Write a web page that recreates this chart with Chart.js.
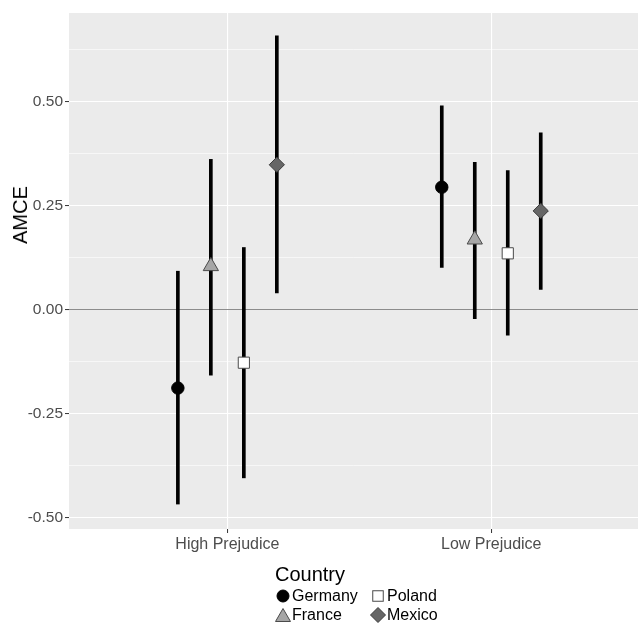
<!DOCTYPE html>
<html>
<head>
<meta charset="utf-8">
<script src="https://cdn.jsdelivr.net/npm/chart.js@4/dist/chart.umd.min.js"></script>
<style>
  html, body { margin: 0; padding: 0; background: #fff; }
  #wrap { position: relative; width: 638px; height: 623px; font-family: "Liberation Sans", Arial, sans-serif; }
  #chart { position: absolute; left: 0; top: 0; }
  #ytitle { position: absolute; left: 20px; top: 215px; transform: translate(-50%, -50%) rotate(-90deg); font-size: 20px; line-height: 20px; color: #000; white-space: nowrap; }
  #legend-title { position: absolute; left: 275px; top: 564px; font-size: 20px; line-height: 20px; color: #000; }
  .leg-item { position: absolute; font-size: 16px; line-height: 16px; color: #000; white-space: nowrap; }
  .leg-key { position: absolute; }
</style>
</head>
<body>
<div id="wrap">
  <canvas id="chart" width="638" height="623"></canvas>
  <div id="ytitle">AMCE</div>
  <div id="legend-title">Country</div>
</div>
<script>
// ---- data ----
const categories = ['High Prejudice', 'Low Prejudice'];
const countries = ['Germany', 'France', 'Poland', 'Mexico'];

const estGermany = [-0.189, 0.294];
const lowGermany = [-0.468, 0.101];
const highGermany = [0.092, 0.490];

const estFrance = [0.104, 0.168];
const lowFrance = [-0.158, -0.022];
const highFrance = [0.361, 0.354];

const estPoland = [-0.128, 0.135];
const lowPoland = [-0.405, -0.062];
const highPoland = [0.149, 0.334];

const estMexico = [0.348, 0.237];
const lowMexico = [0.040, 0.048];
const highMexico = [0.658, 0.425];

const yTicksMajor = [-0.5, -0.25, 0, 0.25, 0.5];
const yTicksMinor = [-0.375, -0.125, 0.125, 0.375, 0.625];

// ---- styles ----
const estimates = [estGermany, estFrance, estPoland, estMexico];
const lows = [lowGermany, lowFrance, lowPoland, lowMexico];
const highs = [highGermany, highFrance, highPoland, highMexico];
const markerStyle = [
  { pointStyle: 'circle', radius: 6.2, fill: '#000000', stroke: '#000000' },
  { pointStyle: 'triangle', radius: 8.8, fill: '#A6A6A6', stroke: '#4a4a4a' },
  { pointStyle: 'rect', radius: 7.9, fill: '#FFFFFF', stroke: '#4a4a4a' },
  { pointStyle: 'rectRot', radius: 7.6, fill: '#666666', stroke: '#3a3a3a' }
];
const dodge = 0.125;
const FONT = '"Liberation Sans", Arial, sans-serif';

const datasets = [];
countries.forEach((name, i) => {
  const off = (i - (countries.length - 1) / 2) * dodge;
  datasets.push({
    type: 'bar',
    label: name + ' CI',
    data: categories.map((c, j) => ({ x: j + 1 + off, y: [lows[i][j], highs[i][j]] })),
    backgroundColor: '#000000',
    borderWidth: 0,
    barThickness: 3,
    grouped: false,
    order: 2
  });
});
countries.forEach((name, i) => {
  const off = (i - (countries.length - 1) / 2) * dodge;
  const m = markerStyle[i];
  datasets.push({
    type: 'scatter',
    label: name,
    data: categories.map((c, j) => ({ x: j + 1 + off, y: estimates[i][j] })),
    pointStyle: m.pointStyle,
    pointRadius: m.radius,
    backgroundColor: m.fill,
    borderColor: m.stroke,
    borderWidth: 1,
    showLine: false,
    order: 1
  });
});

const panelBg = {
  id: 'panelBg',
  beforeDraw(chart) {
    const { ctx, chartArea: a } = chart;
    ctx.save();
    ctx.fillStyle = '#EBEBEB';
    ctx.fillRect(a.left, a.top, a.right - a.left, a.bottom - a.top);
    ctx.restore();
  }
};

const isMajor = v => yTicksMajor.some(t => Math.abs(t - v) < 1e-9);

new Chart(document.getElementById('chart'), {
  type: 'bar',
  data: { datasets },
  options: {
    responsive: false,
    animation: false,
    events: [],
    layout: { autoPadding: false, padding: { top: 13, right: 0, bottom: 64, left: 0 } },
    plugins: { legend: { display: false }, tooltip: { enabled: false } },
    scales: {
      x: {
        type: 'linear',
        min: 0.4,
        max: 2.556,
        offset: false,
        afterBuildTicks: s => { s.ticks = categories.map((c, i) => ({ value: i + 1 })); },
        afterFit: s => { s.height = 30; },
        ticks: {
          callback: v => categories[Math.round(v) - 1] || '',
          color: '#4D4D4D',
          font: { family: FONT, size: 16 },
          padding: 2,
          maxRotation: 0,
          autoSkip: false
        },
        grid: {
          offset: false,
          color: '#FFFFFF',
          lineWidth: 1.1,
          tickColor: '#333333',
          tickWidth: 1,
          tickLength: 4
        },
        border: { display: false }
      },
      y: {
        type: 'linear',
        min: -0.528,
        max: 0.713,
        beginAtZero: false,
        afterBuildTicks: s => {
          s.ticks = [...yTicksMinor, ...yTicksMajor].sort((a, b) => a - b).map(v => ({ value: v }));
        },
        afterFit: s => { s.width = 69; },
        ticks: {
          callback: v => isMajor(v) ? v.toFixed(2) : '',
          color: '#4D4D4D',
          font: { family: FONT, size: 15.5 },
          padding: 2,
          autoSkip: false
        },
        grid: {
          color: c => (c.tick && Math.abs(c.tick.value) < 1e-9) ? '#8C8C8C' : '#FFFFFF',
          lineWidth: c => (c.tick && isMajor(c.tick.value)) ? 1.1 : 0.6,
          tickColor: c => (c.tick && isMajor(c.tick.value)) ? '#333333' : 'rgba(0,0,0,0)',
          tickWidth: 1,
          tickLength: 4
        },
        border: { display: false }
      }
    }
  },
  plugins: [panelBg]
});

// ---- legend (HTML, two columns filled by column) ----
const wrap = document.getElementById('wrap');
const legCols = [283, 378];
const legRows = [596, 615];
const legSizes = [12, 15, 10.5, 15];
function keySvg(i, size) {
  const m = markerStyle[i];
  const s = 18, c = s / 2, h = size / 2;
  let shape = '';
  if (m.pointStyle === 'circle') shape = `<circle cx="${c}" cy="${c}" r="${h}" fill="${m.fill}" stroke="${m.stroke}" stroke-width="1"/>`;
  if (m.pointStyle === 'triangle') { const hh = size * 0.866 / 2; shape = `<polygon points="${c - h},${c + hh} ${c + h},${c + hh} ${c},${c - hh}" fill="${m.fill}" stroke="${m.stroke}" stroke-width="1"/>`; }
  if (m.pointStyle === 'rect') shape = `<rect x="${c - h}" y="${c - h}" width="${size}" height="${size}" fill="${m.fill}" stroke="${m.stroke}" stroke-width="1"/>`;
  if (m.pointStyle === 'rectRot') shape = `<polygon points="${c - h},${c} ${c},${c - h} ${c + h},${c} ${c},${c + h}" fill="${m.fill}" stroke="${m.stroke}" stroke-width="1"/>`;
  return `<svg width="${s}" height="${s}" viewBox="0 0 ${s} ${s}">${shape}</svg>`;
}
countries.forEach((name, i) => {
  const col = Math.floor(i / 2), row = i % 2;
  const cx = legCols[col], cy = legRows[row];
  const key = document.createElement('div');
  key.className = 'leg-key';
  key.style.left = (cx - 9) + 'px';
  key.style.top = (cy - 9) + 'px';
  key.innerHTML = keySvg(i, legSizes[i]);
  wrap.appendChild(key);
  const t = document.createElement('div');
  t.className = 'leg-item';
  t.style.left = (cx + 9) + 'px';
  t.style.top = (cy - 8) + 'px';
  t.textContent = name;
  wrap.appendChild(t);
});
</script>
</body>
</html>
